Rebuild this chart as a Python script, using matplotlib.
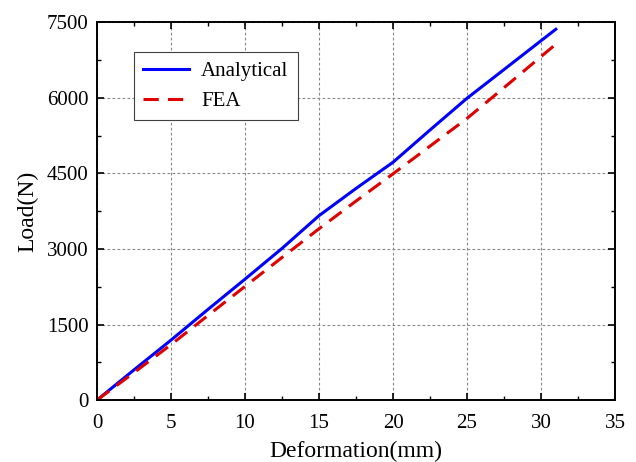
import matplotlib
matplotlib.use("Agg")
import matplotlib.pyplot as plt
from matplotlib.ticker import MultipleLocator

plt.rcParams['font.family'] = ['Liberation Serif', 'DejaVu Serif']

# values
deformation = [0, 2.5, 5, 7.5, 10, 12.5, 15, 17.5, 20, 22.5, 25, 27.5, 31]
load_analytical = [0, 600, 1190, 1800, 2400, 3010, 3660, 4200, 4720, 5360, 5990, 6560, 7360]
load_fea = [0, 545, 1100, 1680, 2256, 2830, 3400, 3950, 4490, 5040, 5590, 6200, 7063]

x_ticks = [0, 5, 10, 15, 20, 25, 30, 35]
y_ticks = [0, 1500, 3000, 4500, 6000, 7500]

fig = plt.figure(figsize=(6.36, 4.62), dpi=100)
ax = fig.add_axes([0.1525, 0.134, 0.8145, 0.818])

ax.plot(deformation, load_analytical, color='#0000ff', lw=2.2, label='Analytical')
ax.plot(deformation, load_fea, color='#e00000', lw=2.2, dashes=(5, 3), label='FEA')

ax.set_xlim(0, 35)
ax.set_ylim(0, 7500)
ax.set_xticks(x_ticks)
ax.set_yticks(y_ticks)
ax.xaxis.set_minor_locator(MultipleLocator(2.5))
ax.yaxis.set_minor_locator(MultipleLocator(750))
ax.tick_params(which='both', direction='in', top=True, right=True, labelsize=15)
ax.tick_params(which='major', length=5, width=1.2)
ax.tick_params(which='minor', length=3, width=1.0)
ax.tick_params(axis='x', which='major', pad=10)
ax.tick_params(axis='y', which='major', pad=6)
for s in ax.spines.values():
    s.set_linewidth(1.4)

ax.grid(True, which='major', color='#888888', lw=0.8, linestyle=(0, (2.5, 2)))

ax.set_xlabel('Deformation(mm)', fontsize=17, labelpad=6)
ax.set_ylabel('Load(N)', fontsize=17, labelpad=6)

leg = ax.legend(loc='upper left', bbox_to_anchor=(0.0714, 0.9214), fontsize=15,
                fancybox=False, framealpha=1, edgecolor='#404040',
                borderaxespad=0, handlelength=2.2, handletextpad=0.58,
                borderpad=0.45, labelspacing=0.5)
leg.get_frame().set_linewidth(0.8)

fig.savefig('out.png', dpi=100)
